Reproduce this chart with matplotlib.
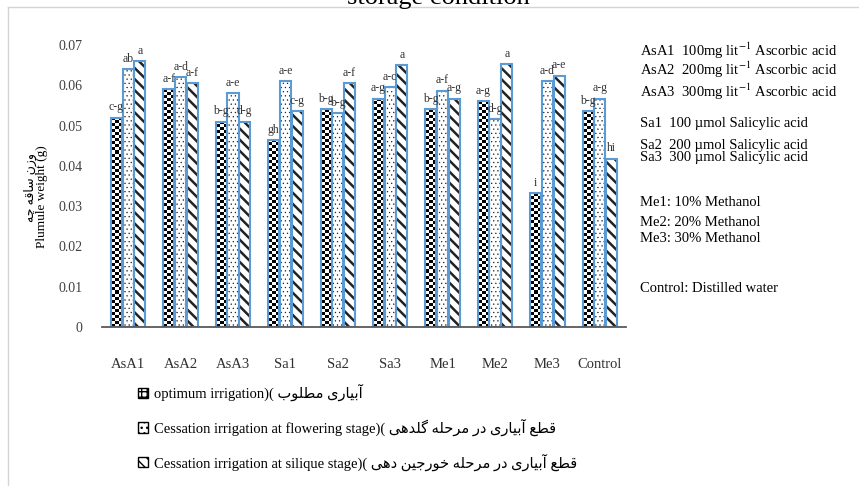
import numpy as np
import matplotlib
matplotlib.use('Agg')
import matplotlib.pyplot as plt
from matplotlib.patches import Patch
from matplotlib.lines import Line2D

plt.rcParams['font.family'] = ['Liberation Serif', 'DejaVu Sans']
plt.rcParams['mathtext.fontset'] = 'stix'

treatments = ['AsA1', 'AsA2', 'AsA3', 'Sa1', 'Sa2', 'Sa3', 'Me1', 'Me2', 'Me3', 'Control']

# plumule weight (g)
optimum = [0.052, 0.059, 0.051, 0.0465, 0.054, 0.0567, 0.054, 0.056, 0.0332, 0.0535]
flowering = [0.064, 0.062, 0.058, 0.061, 0.053, 0.0595, 0.0587, 0.0517, 0.061, 0.0567]
silique = [0.066, 0.0605, 0.051, 0.0535, 0.0605, 0.065, 0.0567, 0.0653, 0.0624, 0.0418]

# mean comparison letters
optimum_marks = ['c-g', 'a-f', 'b-g', 'gh', 'b-g', 'a-g', 'b-g', 'a-g', 'i', 'b-g']
flowering_marks = ['ab', 'a-d', 'a-e', 'a-e', 'b-g', 'a-c', 'a-f', 'd-g', 'a-d', 'a-g']
silique_marks = ['a', 'a-f', 'd-g', 'c-g', 'a-f', 'a', 'a-g', 'a', 'a-e', 'hi']

yticks = [0, 0.01, 0.02, 0.03, 0.04, 0.05, 0.06, 0.07]
ytick_labels = ['0', '0.01', '0.02', '0.03', '0.04', '0.05', '0.06', '0.07']

notes = [
    'AsA1  100mg lit$^{-1}$ Ascorbic acid',
    'AsA2  200mg lit$^{-1}$ Ascorbic acid',
    'AsA3  300mg lit$^{-1}$ Ascorbic acid',
    'Sa1  100 µmol Salicylic acid',
    'Sa2  200 µmol Salicylic acid',
    'Sa3  300 µmol Salicylic acid',
    'Me1: 10% Methanol',
    'Me2: 20% Methanol',
    'Me3: 30% Methanol',
    'Control: Distilled water',
]
notes_y = [51, 70, 92, 124, 145, 158, 203, 222, 238, 288]

# Arabic-script contextual forms: isolated, final, initial, medial
FORMS = {
    'ا': (0xFE8D, 0xFE8E), 'آ': (0xFE81, 0xFE82), 'د': (0xFEA9, 0xFEAA),
    'ر': (0xFEAD, 0xFEAE), 'ز': (0xFEAF, 0xFEB0), 'و': (0xFEED, 0xFEEE),
    'ب': (0xFE8F, 0xFE90, 0xFE91, 0xFE92), 'ج': (0xFE9D, 0xFE9E, 0xFE9F, 0xFEA0),
    'ح': (0xFEA1, 0xFEA2, 0xFEA3, 0xFEA4), 'خ': (0xFEA5, 0xFEA6, 0xFEA7, 0xFEA8),
    'س': (0xFEB1, 0xFEB2, 0xFEB3, 0xFEB4), 'ط': (0xFEC1, 0xFEC2, 0xFEC3, 0xFEC4),
    'ع': (0xFEC9, 0xFECA, 0xFECB, 0xFECC), 'ق': (0xFED5, 0xFED6, 0xFED7, 0xFED8),
    'ل': (0xFEDD, 0xFEDE, 0xFEDF, 0xFEE0), 'م': (0xFEE1, 0xFEE2, 0xFEE3, 0xFEE4),
    'ن': (0xFEE5, 0xFEE6, 0xFEE7, 0xFEE8), 'ه': (0xFEE9, 0xFEEA, 0xFEEB, 0xFEEC),
    'ی': (0xFBFC, 0xFBFD, 0xFBFE, 0xFBFF), 'گ': (0xFB92, 0xFB93, 0xFB94, 0xFB95),
    'چ': (0xFB7A, 0xFB7B, 0xFB7C, 0xFB7D),
}


def rtl(s):
    # matplotlib has no shaping or bidi: pick joined forms, then reverse
    out = []
    for i, c in enumerate(s):
        if c not in FORMS:
            out.append(c)
            continue
        prev = s[i - 1] if i > 0 else ''
        nxt = s[i + 1] if i + 1 < len(s) else ''
        join_prev = prev in FORMS and len(FORMS[prev]) == 4
        join_next = len(FORMS[c]) == 4 and nxt in FORMS
        f = FORMS[c]
        if join_prev and join_next:
            out.append(chr(f[3]))
        elif join_prev:
            out.append(chr(f[1]))
        elif join_next:
            out.append(chr(f[2]))
        else:
            out.append(chr(f[0]))
    return ''.join(out)[::-1]


series_labels = [
    'optimum irrigation)( ' + rtl('آبیاری مطلوب'),
    'Cessation irrigation at flowering stage)( ' + rtl('قطع آبیاری در مرحله گلدهی'),
    'Cessation irrigation at silique stage)( ' + rtl('قطع آبیاری در مرحله خورجین دهی'),
]

W, H = 859, 486
fig = plt.figure(figsize=(W / 100, H / 100), dpi=100)
fig.patch.set_facecolor('white')


def fx(px):
    return px / W


def fy(py):
    return 1 - py / H


# outer frame of the chart area
fig.add_artist(Line2D([fx(8), 1], [fy(7), fy(7)], color='#d4d4d4', lw=1))
fig.add_artist(Line2D([fx(8), fx(8)], [0, fy(7)], color='#d4d4d4', lw=1))

fig.text(fx(438), fy(4), 'storage condition', ha='center', va='baseline', fontsize=19)

ax = fig.add_axes([fx(102), fy(327), (626 - 102) / W, (327 - 45) / H])

blue = '#5b9bd5'
x = np.arange(len(treatments))
w = 0.21
step = 0.225

series = [
    (optimum, optimum_marks, None),
    (flowering, flowering_marks, '....'),
    (silique, silique_marks, '\\\\\\'),
]

for k, (vals, marks, hatch) in enumerate(series):
    pos = x + (k - 1) * step
    if hatch is None:
        bars = ax.bar(pos, vals, w, color='white', lw=0)
        for b in bars:
            x0, h = b.get_x(), b.get_height()
            rows = max(1, int(round(h / 0.00075)))
            board = np.indices((rows, 3)).sum(axis=0) % 2
            im = ax.imshow(board, cmap='gray', extent=(x0, x0 + w, 0, h), zorder=1.5,
                           aspect='auto', interpolation='nearest', origin='lower')
            im.set_clip_path(b)
    else:
        with plt.rc_context({'hatch.linewidth': 1.8 if hatch.startswith('\\') else 0.4}):
            ax.bar(pos, vals, w, color='white', edgecolor='#222222', hatch=hatch, lw=0)
    ax.bar(pos, vals, w, fill=False, edgecolor=blue, lw=1.5, zorder=2)
    for p, v, m in zip(pos, vals, marks):
        ax.annotate(m, (p, v), xytext=(0, 3), textcoords='offset points',
                    ha='center', va='bottom', fontsize=8.5, color='#333333')

ax.set_xlim(-0.5, 9.5)
ax.set_ylim(0, 0.07)
ax.set_xticks(x)
ax.set_xticklabels(treatments)
ax.set_yticks(yticks)
ax.set_yticklabels(ytick_labels)
ax.tick_params(axis='y', length=0, pad=14, labelsize=10, colors='#404040')
ax.tick_params(axis='x', length=0, pad=22, labelsize=10.5, colors='#303030')
for side in ['left', 'right', 'top']:
    ax.spines[side].set_visible(False)
ax.spines['bottom'].set_color('#595959')
ax.spines['bottom'].set_linewidth(1.3)
ax.patch.set_alpha(0)

fig.text(fx(30), fy(187), rtl('وزن ساقه چه'), rotation=90, ha='center', va='center', fontsize=9)
fig.text(fx(42), fy(197), 'Plumule weight (g)', rotation=90, ha='center', va='center', fontsize=9.5)

handles = [
    Patch(facecolor='white', edgecolor='black', hatch='+++'),
    Patch(facecolor='white', edgecolor='black', hatch='...'),
    Patch(facecolor='white', edgecolor='black', hatch='\\\\\\'),
]
fig.legend(handles, series_labels, loc='upper left', bbox_to_anchor=(fx(132), fy(378)),
           frameon=False, fontsize=10.5, handlelength=0.7, handleheight=0.7,
           labelspacing=1.2, handletextpad=0.4, borderaxespad=0)

for txt, py in zip(notes, notes_y):
    fig.text(fx(640), fy(py), txt, ha='left', va='center', fontsize=10.5)

fig.savefig('out.png', dpi=100)
